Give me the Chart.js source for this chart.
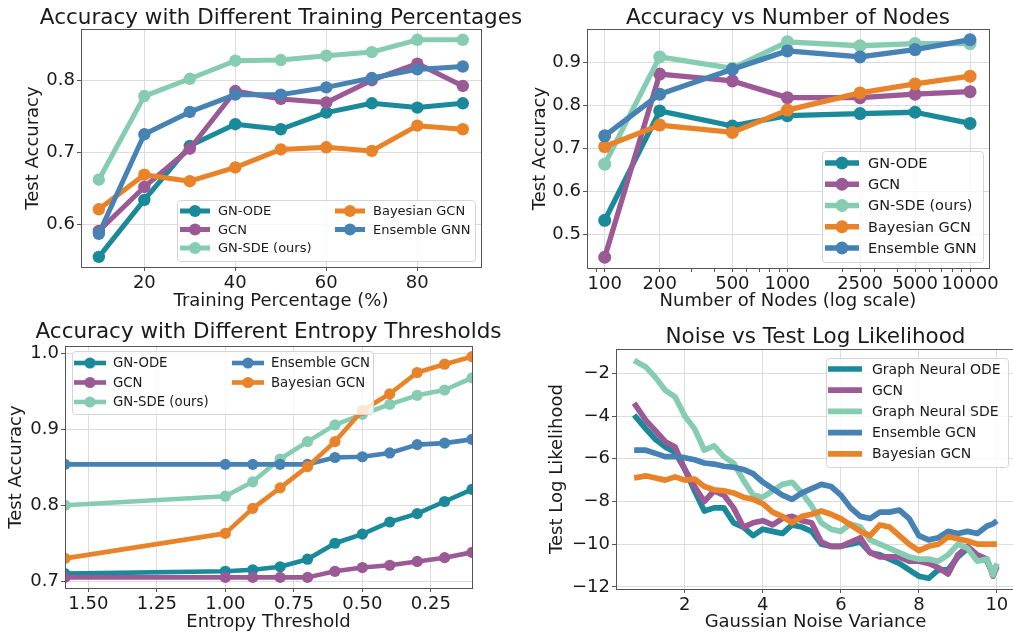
<!DOCTYPE html>
<html>
<head>
<meta charset="utf-8">
<script src="https://cdn.jsdelivr.net/npm/chart.js@4.4.0/dist/chart.umd.min.js"></script>
<style>
  html, body { margin: 0; padding: 0; background: #fff; overflow: hidden; }
  #wrap { position: relative; width: 1013px; height: 637px; overflow: hidden; }
  canvas { position: absolute; }
</style>
</head>
<body>
<div id="wrap">
  <canvas id="trainChart"   width="530" height="318" style="left:0;top:0"></canvas>
  <canvas id="nodesChart"   width="507" height="318" style="left:506px;top:0"></canvas>
  <canvas id="entropyChart" width="506" height="319" style="left:0;top:318px"></canvas>
  <canvas id="noiseChart"   width="512" height="319" style="left:506px;top:318px"></canvas>
</div>
<script>
/* ================================================
   DATA — training percentage
================================================ */
const TRAIN_PCT      = [10, 20, 30, 40, 50, 60, 70, 80, 90];
const TRAIN_GN_ODE   = [0.555, 0.634, 0.709, 0.739, 0.732, 0.755, 0.768, 0.762, 0.768];
const TRAIN_GCN      = [0.591, 0.652, 0.705, 0.785, 0.774, 0.769, 0.800, 0.823, 0.792];
const TRAIN_GN_SDE   = [0.662, 0.778, 0.802, 0.827, 0.828, 0.834, 0.839, 0.856, 0.856];
const TRAIN_BAYES    = [0.621, 0.669, 0.660, 0.679, 0.704, 0.707, 0.702, 0.737, 0.732];
const TRAIN_ENSEMBLE = [0.587, 0.725, 0.756, 0.780, 0.780, 0.790, 0.803, 0.815, 0.819];
const TRAIN_X_TICKS  = [20, 40, 60, 80];
const TRAIN_Y_TICKS  = [0.6, 0.7, 0.8];

/* ================================================
   DATA — number of nodes
================================================ */
const NODES          = [100, 200, 500, 1000, 2500, 5000, 10000];
const NODES_GN_ODE   = [0.532, 0.787, 0.752, 0.776, 0.781, 0.784, 0.758];
const NODES_GCN      = [0.446, 0.873, 0.857, 0.818, 0.818, 0.826, 0.832];
const NODES_GN_SDE   = [0.663, 0.913, 0.886, 0.948, 0.939, 0.944, 0.944];
const NODES_BAYES    = [0.704, 0.754, 0.737, 0.789, 0.829, 0.850, 0.868];
const NODES_ENSEMBLE = [0.729, 0.826, 0.884, 0.927, 0.913, 0.930, 0.953];
const NODES_X_TICKS  = [100, 200, 500, 1000, 2500, 5000, 10000];
const NODES_X_MINOR  = [90, 300, 400, 600, 700, 800, 900, 2000, 3000, 4000, 6000, 7000, 8000, 9000];
const NODES_Y_TICKS  = [0.5, 0.6, 0.7, 0.8, 0.9];

/* ================================================
   DATA — entropy threshold
================================================ */
const ENTROPY        = [1.585, 1.0, 0.9, 0.8, 0.7, 0.6, 0.5, 0.4, 0.3, 0.2, 0.1];
const ENT_GN_ODE     = [0.710, 0.713, 0.715, 0.719, 0.729, 0.750, 0.762, 0.778, 0.789, 0.805, 0.821];
const ENT_GCN        = [0.705, 0.705, 0.705, 0.705, 0.705, 0.713, 0.718, 0.721, 0.726, 0.731, 0.738];
const ENT_GN_SDE     = [0.800, 0.812, 0.831, 0.861, 0.884, 0.906, 0.920, 0.933, 0.945, 0.952, 0.968];
const ENT_ENSEMBLE   = [0.854, 0.854, 0.854, 0.854, 0.854, 0.863, 0.864, 0.869, 0.880, 0.882, 0.887];
const ENT_BAYES      = [0.730, 0.763, 0.796, 0.823, 0.851, 0.884, 0.925, 0.947, 0.975, 0.986, 0.996];
const ENT_X_TICKS    = [1.5, 1.25, 1.0, 0.75, 0.5, 0.25];
const ENT_Y_TICKS    = [0.7, 0.8, 0.9, 1.0];

/* ================================================
   DATA — noise vs log likelihood
================================================ */
const NOISE_VAR      = [0.7, 1.0, 1.25, 1.5, 1.75, 2.0, 2.25, 2.5, 2.75, 3.0, 3.25, 3.5, 3.75,
                        4.0, 4.25, 4.5, 4.75, 5.0, 5.25, 5.5, 5.75, 6.0, 6.25, 6.5, 6.75, 7.0,
                        7.25, 7.5, 7.75, 8.0, 8.25, 8.5, 8.75, 9.0, 9.25, 9.5, 9.75, 9.9, 10.0];
const NOISE_ODE      = [-3.95, -4.6, -5.1, -5.45, -5.7, -6.5, -7.5, -8.45, -8.3, -8.3, -9.0, -9.2, -9.6,
                        -9.3, -9.4, -9.5, -9.1, -9.2, -9.4, -10.0, -10.1, -10.1, -10.0, -9.9, -10.4, -10.5,
                        -10.7, -10.9, -11.2, -11.5, -11.6, -11.2, -11.2, -10.6, -10.2, -10.6, -10.8, -11.4, -11.0];
const NOISE_GCN      = [-3.4, -4.2, -4.7, -5.2, -5.45, -6.5, -7.3, -8.0, -7.5, -7.7, -8.3, -9.2, -9.0,
                        -8.9, -9.1, -8.8, -8.7, -8.9, -9.0, -9.9, -10.1, -10.1, -9.9, -9.7, -10.4, -10.6,
                        -10.6, -10.6, -10.8, -10.8, -10.9, -11.1, -11.4, -10.5, -10.1, -10.5, -10.7, -11.5, -11.05];
const NOISE_SDE      = [-1.4, -1.7, -2.2, -2.8, -3.1, -4.0, -4.6, -5.6, -5.4, -5.9, -6.2, -7.0, -7.7,
                        -7.8, -7.5, -7.2, -7.1, -7.6, -8.2, -9.0, -9.3, -9.4, -9.05, -9.2, -9.8, -10.0,
                        -10.2, -10.4, -10.6, -10.7, -10.7, -10.8, -10.5, -10.0, -10.2, -10.8, -10.7, -11.45, -10.9];
const NOISE_ENSEMBLE = [-5.6, -5.6, -5.75, -5.9, -5.9, -5.95, -6.05, -6.2, -6.25, -6.35, -6.4, -6.5, -6.7,
                        -7.1, -7.4, -7.7, -7.9, -7.6, -7.4, -7.2, -7.3, -7.7, -8.3, -8.7, -8.8, -8.5,
                        -8.5, -8.4, -8.8, -9.6, -9.8, -9.7, -9.4, -9.5, -9.4, -9.5, -9.15, -9.05, -8.9];
const NOISE_BAYES    = [-6.9, -6.8, -6.9, -7.0, -6.85, -7.0, -6.95, -7.3, -7.45, -7.5, -7.6, -7.8, -7.9,
                        -8.1, -8.5, -8.7, -9.0, -8.7, -8.6, -8.45, -8.6, -8.8, -9.1, -9.4, -9.6, -9.1,
                        -9.2, -9.6, -10.0, -10.3, -10.1, -10.0, -9.65, -9.75, -9.85, -10.0, -10.0, -10.0, -10.0];
const NOISE_X_TICKS  = [2, 4, 6, 8, 10];
const NOISE_Y_TICKS  = [-2, -4, -6, -8, -10, -12];

/* ================================================
   STYLE
================================================ */
const FONT  = "'DejaVu Sans', sans-serif";
const TEXT  = '#1a1a1a';
const GRID  = '#dcdcdc';
const SPINE = '#555555';
const C = {
  ode: '#1a8a9a',
  gcn: '#9b5996',
  sde: '#85ccb2',
  ens: '#4682b4',
  bay: '#e8832a',
};

/* ================================================
   PLUGINS — frame, title, boxed legend
================================================ */
const panelFrame = {
  id: 'panelFrame',
  afterDatasetsDraw(chart) {
    const { ctx, chartArea: a } = chart;
    ctx.save();
    ctx.strokeStyle = SPINE;
    ctx.lineWidth = 1;
    ctx.strokeRect(Math.round(a.left) + 0.5, Math.round(a.top) + 0.5,
                   Math.round(a.right - a.left), Math.round(a.bottom - a.top));
    ctx.restore();
  },
  afterDraw(chart, args, opts) {
    if (!opts.text) return;
    const { ctx, chartArea: a } = chart;
    ctx.save();
    ctx.font = `${opts.size}px ${FONT}`;
    ctx.fillStyle = TEXT;
    ctx.textAlign = 'center';
    ctx.textBaseline = 'alphabetic';
    ctx.fillText(opts.text, (a.left + a.right) / 2, opts.y);
    ctx.restore();
  },
};

const boxLegend = {
  id: 'boxLegend',
  afterDraw(chart, args, o) {
    if (!o.rows) return;
    const ctx = chart.ctx;
    ctx.save();
    ctx.beginPath();
    ctx.roundRect(o.x + 0.5, o.y + 0.5, o.w, o.h, 3);
    ctx.fillStyle = 'rgba(255,255,255,0.8)';
    ctx.fill();
    ctx.strokeStyle = '#d4d4d4';
    ctx.lineWidth = 1;
    ctx.stroke();

    ctx.font = `${o.size}px ${FONT}`;
    ctx.textBaseline = 'middle';
    chart.data.datasets.forEach((ds, i) => {
      const col = Math.floor(i / o.rows), row = i % o.rows;
      const x0 = o.x + o.colX[col];
      const y  = o.y + o.rowY0 + row * o.rowGap;
      ctx.strokeStyle = ds.borderColor;
      ctx.lineWidth = o.lineWidth;
      ctx.beginPath();
      ctx.moveTo(x0, y);
      ctx.lineTo(x0 + o.handle, y);
      ctx.stroke();
      if (o.marker) {
        ctx.fillStyle = ds.borderColor;
        ctx.beginPath();
        ctx.arc(x0 + o.handle / 2, y, o.marker, 0, Math.PI * 2);
        ctx.fill();
      }
      ctx.fillStyle = TEXT;
      ctx.fillText(ds.label, x0 + o.handle + o.textGap, y + 1);
    });
    ctx.restore();
  },
};

Chart.register(panelFrame, boxLegend);

/* ================================================
   GENERIC PANEL BUILDER
================================================ */
function axisTicks(fmt, size) {
  return {
    font: { family: FONT, size }, color: TEXT, padding: 2,
    maxRotation: 0, autoSkip: false,
    callback: fmt,
  };
}

function buildPanel(canvasId, cfg) {
  const canvas = document.getElementById(canvasId);
  const W = canvas.width, H = canvas.height;
  const a = cfg.area;
  const majors = cfg.xTicks;

  const datasets = cfg.series.map((s, i) => ({
    label: s.label,
    data: cfg.x.map((x, k) => ({ x, y: s.values[k] })),
    borderColor:          s.color,
    backgroundColor:      s.color,
    pointBackgroundColor: s.color,
    pointBorderColor:     s.color,
    borderWidth:          cfg.lineWidth,
    pointRadius:          cfg.pointRadius,
    pointBorderWidth:     0,
    borderJoinStyle:      'round',
    tension:              0,
    clip:                 0,
    order:                cfg.series.length - i,
  }));

  return new Chart(canvas.getContext('2d'), {
    type: 'line',
    data: { datasets },
    options: {
      responsive: false,
      animation:  false,
      events:     [],
      layout: { padding: { left: 0, top: a.top, right: W - a.right, bottom: 0 } },
      plugins: {
        legend:  { display: false },
        tooltip: { enabled: false },
        panelFrame: { text: cfg.title, y: cfg.titleY, size: 21.5 },
        boxLegend:  cfg.legend,
      },
      scales: {
        x: {
          type:    cfg.xType || 'linear',
          min:     cfg.xRange[0],
          max:     cfg.xRange[1],
          reverse: !!cfg.xReverse,
          afterFit: s => { s.height = H - a.bottom; },
          afterBuildTicks: s => {
            s.ticks = majors.concat(cfg.xMinor || []).map(v => ({ value: v }));
          },
          ticks: axisTicks(v => majors.includes(v) ? cfg.xFmt(v) : '', 18),
          grid: {
            color:     c => (c.tick && majors.includes(c.tick.value)) ? GRID : 'rgba(0,0,0,0)',
            lineWidth: 1,
            drawTicks: true,
            tickLength: 4,
            tickColor: SPINE,
          },
          border: { display: false },
          title: {
            display: true, text: cfg.xTitle, color: TEXT,
            font: { family: FONT, size: 18 },
            padding: { top: 0, bottom: cfg.xTitlePad },
          },
        },
        y: {
          type: 'linear',
          min:  cfg.yRange[0],
          max:  cfg.yRange[1],
          afterFit: s => { s.width = a.left; },
          afterBuildTicks: s => { s.ticks = cfg.yTicks.map(v => ({ value: v })); },
          ticks: axisTicks(cfg.yFmt, 18),
          grid: { color: GRID, lineWidth: 1, drawTicks: true, tickLength: 4, tickColor: SPINE },
          border: { display: false },
          title: {
            display: true, text: cfg.yTitle, color: TEXT,
            font: { family: FONT, size: 18 },
            padding: { top: cfg.yTitlePad, bottom: 0 },
          },
        },
      },
    },
  });
}

const fix1 = v => v.toFixed(1);
const fix2 = v => v.toFixed(2);
const intLabel = v => String(v);
const minusLabel = v => (v < 0 ? '\u2212' : '') + Math.abs(v);

/* ================================================
   PANELS
================================================ */
buildPanel('trainChart', {
  title: 'Accuracy with Different Training Percentages', titleY: 24,
  area: { left: 81, top: 29, right: 481, bottom: 267 },
  x: TRAIN_PCT, xRange: [6.08, 94], xTicks: TRAIN_X_TICKS, xFmt: intLabel,
  yRange: [0.541, 0.871], yTicks: TRAIN_Y_TICKS, yFmt: fix1,
  xTitle: 'Training Percentage (%)', xTitlePad: 6,
  yTitle: 'Test Accuracy', yTitlePad: 23,
  lineWidth: 5, pointRadius: 6.2,
  series: [
    { label: 'GN-ODE',        values: TRAIN_GN_ODE,   color: C.ode },
    { label: 'GCN',           values: TRAIN_GCN,      color: C.gcn },
    { label: 'GN-SDE (ours)', values: TRAIN_GN_SDE,   color: C.sde },
    { label: 'Bayesian GCN',  values: TRAIN_BAYES,    color: C.bay },
    { label: 'Ensemble GNN',  values: TRAIN_ENSEMBLE, color: C.ens },
  ],
  legend: { x: 177, y: 200, w: 298, h: 61, rows: 3, colX: [3, 158], rowY0: 11, rowGap: 18.5,
            handle: 30, textGap: 8, size: 13, lineWidth: 5, marker: 6 },
});

buildPanel('nodesChart', {
  title: 'Accuracy vs Number of Nodes', titleY: 24,
  area: { left: 81, top: 29, right: 483, bottom: 268 },
  x: NODES, xType: 'logarithmic', xRange: [80, 12700], xTicks: NODES_X_TICKS, xMinor: NODES_X_MINOR,
  xFmt: intLabel,
  yRange: [0.421, 0.978], yTicks: NODES_Y_TICKS, yFmt: fix1,
  xTitle: 'Number of Nodes (log scale)', xTitlePad: 6,
  yTitle: 'Test Accuracy', yTitlePad: 24,
  lineWidth: 5.3, pointRadius: 6.5,
  series: [
    { label: 'GN-ODE',        values: NODES_GN_ODE,   color: C.ode },
    { label: 'GCN',           values: NODES_GCN,      color: C.gcn },
    { label: 'GN-SDE (ours)', values: NODES_GN_SDE,   color: C.sde },
    { label: 'Bayesian GCN',  values: NODES_BAYES,    color: C.bay },
    { label: 'Ensemble GNN',  values: NODES_ENSEMBLE, color: C.ens },
  ],
  legend: { x: 316, y: 151, w: 161, h: 111, rows: 5, colX: [3], rowY0: 12, rowGap: 21.25,
            handle: 34, textGap: 9, size: 14.5, lineWidth: 5.3, marker: 6.5 },
});

buildPanel('entropyChart', {
  title: 'Accuracy with Different Entropy Thresholds', titleY: 20,
  area: { left: 65, top: 28, right: 472, bottom: 270 },
  x: ENTROPY, xRange: [0.1, 1.585], xReverse: true, xTicks: ENT_X_TICKS, xFmt: fix2,
  yRange: [0.691, 1.01], yTicks: ENT_Y_TICKS, yFmt: fix1,
  xTitle: 'Entropy Threshold', xTitlePad: 4,
  yTitle: 'Test Accuracy', yTitlePad: 6,
  lineWidth: 4.6, pointRadius: 5.6,
  series: [
    { label: 'GN-ODE',        values: ENT_GN_ODE,   color: C.ode },
    { label: 'GCN',           values: ENT_GCN,      color: C.gcn },
    { label: 'GN-SDE (ours)', values: ENT_GN_SDE,   color: C.sde },
    { label: 'Ensemble GCN',  values: ENT_ENSEMBLE, color: C.ens },
    { label: 'Bayesian GCN',  values: ENT_BAYES,    color: C.bay },
  ],
  legend: { x: 72, y: 33, w: 301, h: 63, rows: 3, colX: [2, 160], rowY0: 12, rowGap: 19.5,
            handle: 32, textGap: 7, size: 13.3, lineWidth: 4.6, marker: 5.6 },
});

buildPanel('noiseChart', {
  title: 'Noise vs Test Log Likelihood', titleY: 25,
  area: { left: 110, top: 31, right: 509, bottom: 271 },
  x: NOISE_VAR, xRange: [0.235, 10.465], xTicks: NOISE_X_TICKS, xFmt: intLabel,
  yRange: [-12.1, -0.86], yTicks: NOISE_Y_TICKS, yFmt: minusLabel,
  xTitle: 'Gaussian Noise Variance', xTitlePad: 4,
  yTitle: 'Test Log Likelihood', yTitlePad: 41,
  lineWidth: 5.7, pointRadius: 0,
  series: [
    { label: 'Graph Neural ODE', values: NOISE_ODE,      color: C.ode },
    { label: 'GCN',              values: NOISE_GCN,      color: C.gcn },
    { label: 'Graph Neural SDE', values: NOISE_SDE,      color: C.sde },
    { label: 'Ensemble GCN',     values: NOISE_ENSEMBLE, color: C.ens },
    { label: 'Bayesian GCN',     values: NOISE_BAYES,    color: C.bay },
  ],
  legend: { x: 320, y: 40, w: 182, h: 109, rows: 5, colX: [2], rowY0: 11, rowGap: 21.2,
            handle: 34, textGap: 10, size: 14, lineWidth: 5.7, marker: 0 },
});
</script>
</body>
</html>
